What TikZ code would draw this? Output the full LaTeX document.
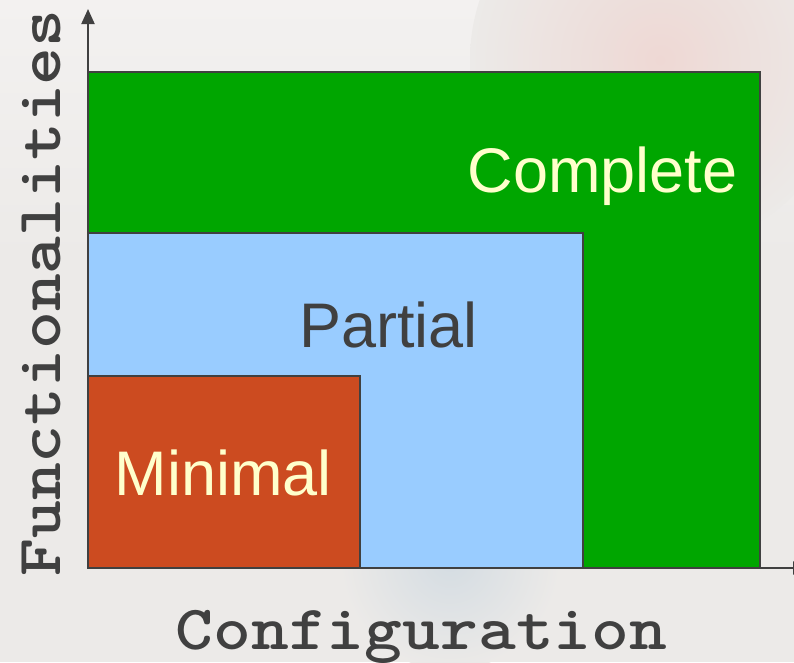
\documentclass[tikz,border=0pt]{standalone}
\usepackage{fontspec}
\setmainfont{Liberation Sans}
% slab-serif typewriter face for the axis titles, widened to Courier pitch
\newfontfamily\axisfont{lmmonolt10-bold.otf}[FakeStretch=1.143]
\usetikzlibrary{arrows.meta}
\definecolor{bgcol}{RGB}{236,234,232}
\definecolor{lightbg}{RGB}{243,241,240}
\definecolor{edgecol}{RGB}{64,64,64}
\definecolor{completecol}{RGB}{0,166,0}
\definecolor{partialcol}{RGB}{153,204,255}
\definecolor{minimalcol}{RGB}{204,75,32}
\definecolor{lighttext}{RGB}{255,255,204}
\definecolor{darktext}{RGB}{64,64,64}
\definecolor{pinktint}{RGB}{238,216,212}
\definecolor{bluetint}{RGB}{212,220,226}
\tikzset{
  level/.style={draw=edgecol, line width=1.6pt},
  bigtext/.style={anchor=base, inner sep=0pt, font=\fontsize{63}{70}\selectfont},
  axislabel/.style={anchor=base, inner sep=0pt, text=darktext,
    font=\axisfont\fontsize{63}{70}\selectfont},
  axis/.style={draw=edgecol, line width=2pt, -{Triangle[length=15pt,width=13pt]}}
}
\begin{document}
\begin{tikzpicture}[x=1pt, y=-1pt]
  \useasboundingbox (0,0) rectangle (794,662);
  % canvas with soft tinted patches
  \fill[bgcol] (0,0) rectangle (794,662);
  \shade[top color=lightbg, bottom color=bgcol] (0,0) rectangle (794,260);
  \shade[inner color=pinktint, outer color=bgcol] (660,60) circle[radius=190];
  \shade[inner color=bluetint, outer color=bgcol] (450,560) circle[radius=110];

  % nested levels
  \draw[level, fill=completecol] (88,72) rectangle (760,568);
  \draw[level, fill=partialcol] (88,233) rectangle (583,568);
  \draw[level, fill=minimalcol] (88,376) rectangle (360,568);

  % level labels
  \node[bigtext, text=lighttext] (complete) at (602.5,192) {Complete};
  \node[bigtext, text=darktext] (partial) at (388.5,347) {Partial};
  \node[bigtext, text=lighttext] (minimal) at (223.5,495) {Minimal};

  % axes
  \coordinate (origin) at (88,568);
  \coordinate (ytip) at (88,9);
  \coordinate (xtip) at (808,568);
  \draw[axis] (origin) -- (ytip);
  \draw[axis] (origin) -- (xtip);

  % axis labels
  \node[axislabel] (xlabel) at (421.5,649) {Configuration};
  \node[axislabel, rotate=90] (ylabel) at (60,293) {Functionalities};
\end{tikzpicture}
\end{document}
